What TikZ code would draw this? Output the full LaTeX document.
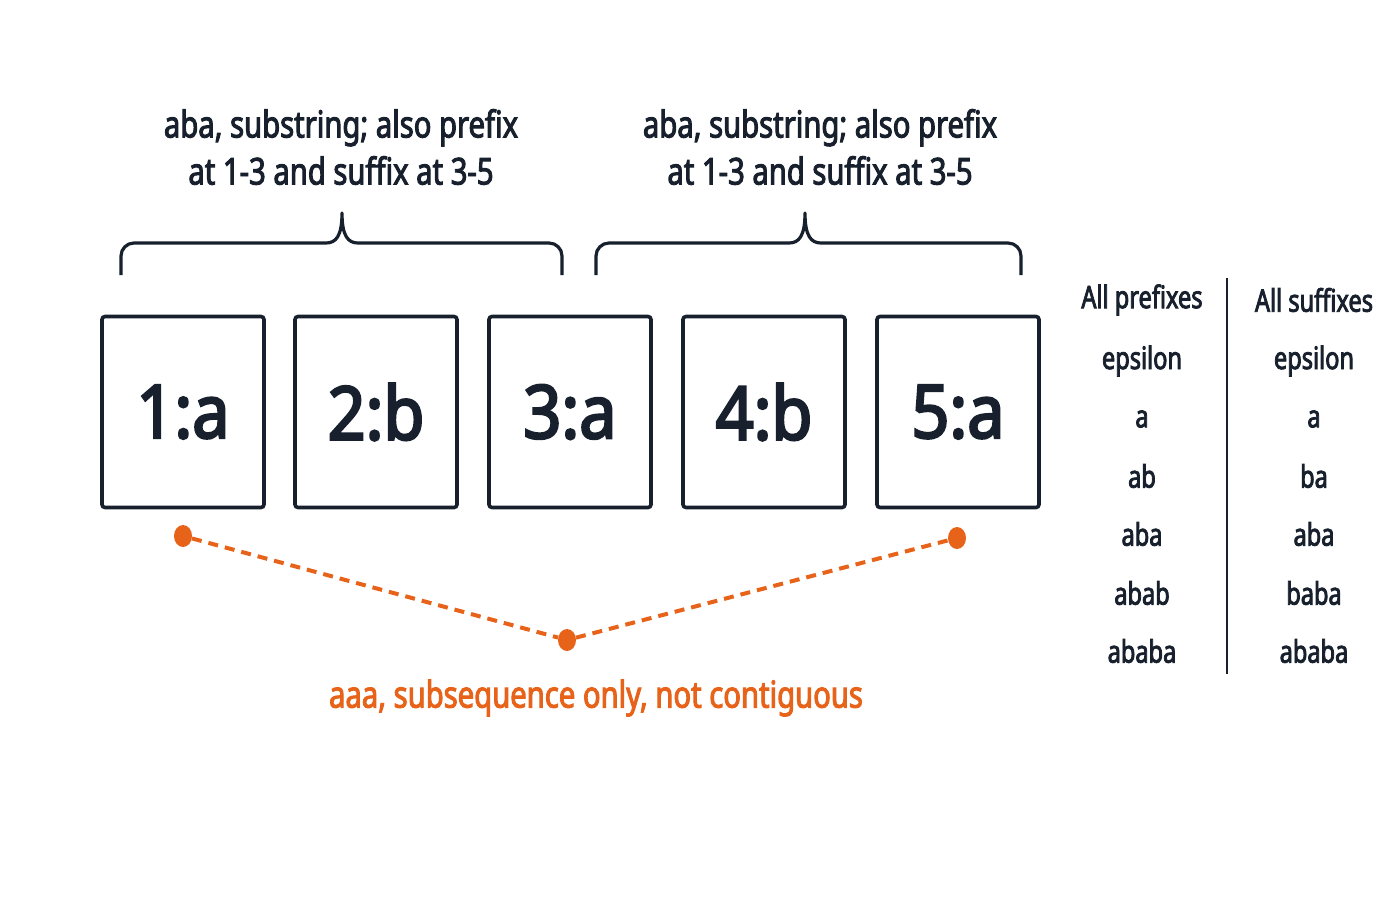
\documentclass[tikz,border=0pt]{standalone}
\usepackage{fontspec}
\setmainfont{Noto Sans}
\newfontfamily\condfont[FakeStretch=0.79,FakeBold=2.6]{Noto Sans}
\newfontfamily\tabfont[FakeStretch=0.76,FakeBold=2.6]{Noto Sans}
\newfontfamily\boxfont[FakeStretch=0.9,FakeBold=3.2]{Noto Sans}
\definecolor{ink}{HTML}{17202C}
\definecolor{orng}{HTML}{E8631A}
\tikzset{
  cell/.style={draw=ink, line width=3.6pt, rounded corners=3pt, minimum width=162pt, minimum height=191pt, inner sep=0pt, font=\boxfont\fontsize{74}{80}\selectfont, text=ink},
  lbl/.style={font=\condfont\fontsize{37}{47}\selectfont, text=ink, align=center, inner sep=0pt},
  tab/.style={font=\tabfont\fontsize{31}{36}\selectfont, text=ink, inner sep=0pt},
  brace/.style={draw=ink, line width=3.2pt, line join=round},
  dot/.style={ellipse, fill=orng, minimum width=18pt, minimum height=22pt, inner sep=0pt},
  dashline/.style={draw=orng, line width=4pt, dash pattern=on 10pt off 7pt},
}
\usetikzlibrary{shapes.geometric}
\begin{document}
\begin{tikzpicture}[x=1pt,y=-1pt]
\useasboundingbox (0,0) rectangle (1400,900);
\fill[white] (0,0) rectangle (1400,900);
% boxes
\node[cell] (b1) at (183,412) {1:a};
\node[cell] (b2) at (376,412) {2:b};
\node[cell] (b3) at (570,412) {3:a};
\node[cell] (b4) at (764,412) {4:b};
\node[cell] (b5) at (958,412) {5:a};
% braces
\draw[brace] (121,275) -- (121,256) arc[start angle=180,end angle=270,radius=13] -- (326,243) .. controls (336,243) and (342,236) .. (342,213) .. controls (342,236) and (348,243) .. (358,243) -- (549,243) arc[start angle=270,end angle=360,radius=13] -- (562,275);
\draw[brace] (596,275) -- (596,256) arc[start angle=180,end angle=270,radius=13] -- (789,243) .. controls (799,243) and (805,236) .. (805,213) .. controls (805,236) and (811,243) .. (821,243) -- (1008,243) arc[start angle=270,end angle=360,radius=13] -- (1021,275);
\node[lbl] (t1) at (341,147) {aba, substring; also prefix\\at 1-3 and suffix at 3-5};
\node[lbl] (t2) at (820,147) {aba, substring; also prefix\\at 1-3 and suffix at 3-5};
% subsequence
\node[dot] (d1) at (183,536) {};
\node[dot] (d2) at (957,538) {};
\node[dot] (d3) at (567,640) {};
\draw[dashline] (d1) -- (d3) -- (d2);
\node[font=\condfont\fontsize{37}{40}\selectfont, text=orng, inner sep=0pt] (t3) at (596,698) {aaa, subsequence only, not contiguous};
% table
\coordinate (vt) at (1227,278);
\coordinate (vb) at (1227,674);
\draw[ink, line width=2.2pt] (vt) -- (vb);
\node[tab] (p0) at (1142,300) {All prefixes};
\node[tab] (p1) at (1142,361) {epsilon};
\node[tab] (p2) at (1142,419) {a};
\node[tab] (p3) at (1142,476) {ab};
\node[tab] (p4) at (1142,534) {aba};
\node[tab] (p5) at (1142,593) {abab};
\node[tab] (p6) at (1142,651) {ababa};
\node[tab] (s0) at (1314,300) {All suffixes};
\node[tab] (s1) at (1314,361) {epsilon};
\node[tab] (s2) at (1314,419) {a};
\node[tab] (s3) at (1314,476) {ba};
\node[tab] (s4) at (1314,534) {aba};
\node[tab] (s5) at (1314,593) {baba};
\node[tab] (s6) at (1314,651) {ababa};
\end{tikzpicture}
\end{document}
